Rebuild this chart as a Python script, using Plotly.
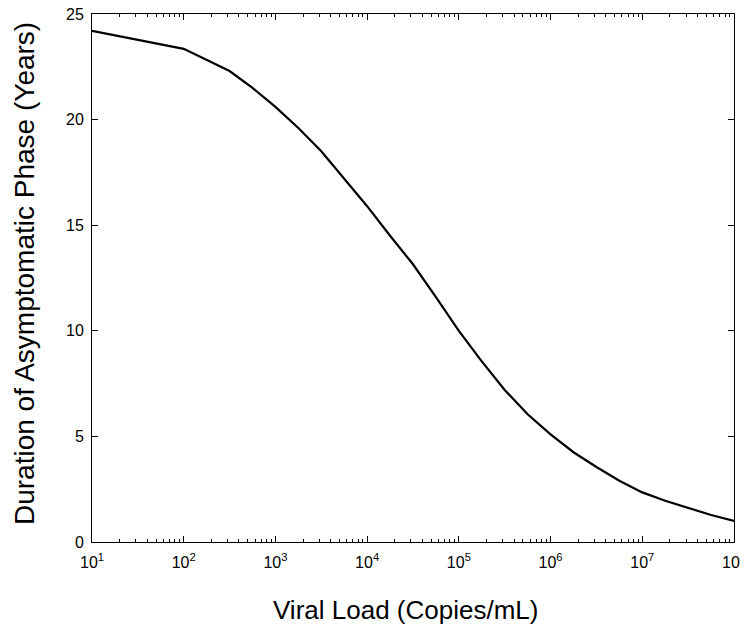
import plotly.graph_objects as go

# Viral load (copies/mL) as log10 exponents, and asymptomatic duration (years)
log_viral_load = [1.0, 2.0, 2.5, 2.75, 3.0, 3.25, 3.5, 3.75, 4.0, 4.25, 4.5, 4.75,
                  5.0, 5.25, 5.5, 5.75, 6.0, 6.25, 6.5, 6.75, 7.0, 7.25, 7.5, 7.75, 8.0]
duration_years = [24.2, 23.35, 22.3, 21.5, 20.6, 19.6, 18.5, 17.2, 15.9, 14.5, 13.15, 11.6,
                  10.0, 8.55, 7.2, 6.05, 5.1, 4.25, 3.55, 2.9, 2.35, 1.95, 1.6, 1.28, 1.0]

x_tick_exponents = [1, 2, 3, 4, 5, 6, 7, 8]
y_tick_values = [0, 5, 10, 15, 20, 25]

x_title = "Viral Load (Copies/mL)"
y_title = "Duration of Asymptomatic Phase (Years)"

viral_load = [10 ** e for e in log_viral_load]
x_tick_vals = [10 ** e for e in x_tick_exponents[:-1]]
x_tick_text = [f"10<sup>{e}</sup>" for e in x_tick_exponents[:-1]]
last_exp = x_tick_exponents[-1]

FONT = "Liberation Sans, Arial, sans-serif"
L, R, T, B = 92, 6, 14, 89
W, H = 740, 631
PW, PH = W - L - R, H - T - B
LABEL_Y = -(561 - (H - B)) / PH

fig = go.Figure()
fig.add_trace(go.Scatter(
    x=viral_load, y=duration_years, mode="lines",
    line=dict(color="black", width=2.2), showlegend=False,
))

fig.update_layout(
    width=W, height=H,
    margin=dict(l=L, r=R, t=T, b=B, autoexpand=False),
    paper_bgcolor="white", plot_bgcolor="white",
    font=dict(family=FONT, color="black", size=16),
)

fig.update_xaxes(
    type="log", range=[1, 8],
    tickvals=x_tick_vals + [10 ** last_exp], ticktext=x_tick_text + [" "],
    ticks="inside", ticklen=6, tickwidth=1, tickcolor="black",
    minor=dict(dtick="D1", ticks="inside", ticklen=3, tickwidth=1, tickcolor="black", showgrid=False),
    showline=True, linecolor="black", linewidth=1, mirror="allticks",
    showgrid=False, zeroline=False, automargin=False,
    tickfont=dict(size=16, family=FONT), ticklabelstandoff=6,
)

fig.update_yaxes(
    range=[0, 25],
    tickvals=y_tick_values,
    ticks="inside", ticklen=6, tickwidth=1, tickcolor="black",
    showline=True, linecolor="black", linewidth=1, mirror="allticks",
    showgrid=False, zeroline=False, automargin=False,
    tickfont=dict(size=16, family=FONT), ticklabelstandoff=4,
)

# last decade label sits on the right edge and is cut by the page, as in the source
fig.add_annotation(
    text=f"10<sup>{last_exp}</sup>", xref="x", yref="paper",
    x=last_exp, y=LABEL_Y, xanchor="center", yanchor="middle", showarrow=False,
    font=dict(size=16, family=FONT, color="black"),
)
fig.add_annotation(
    text=x_title, xref="paper", yref="paper",
    x=(405 - L) / PW, y=-(610 - (H - B)) / PH,
    xanchor="center", yanchor="middle", showarrow=False,
    font=dict(size=26, family=FONT, color="black"),
)
fig.add_annotation(
    text=y_title, xref="paper", yref="paper",
    x=-(L - 24) / PW, y=((H - B) - 274) / PH,
    xanchor="center", yanchor="middle", showarrow=False, textangle=-90,
    font=dict(size=28, family=FONT, color="black"),
)

fig.write_html(
    "out.html",
    config={"displayModeBar": False},
    post_script="document.body.style.margin='0';document.body.style.overflow='hidden';",
)
